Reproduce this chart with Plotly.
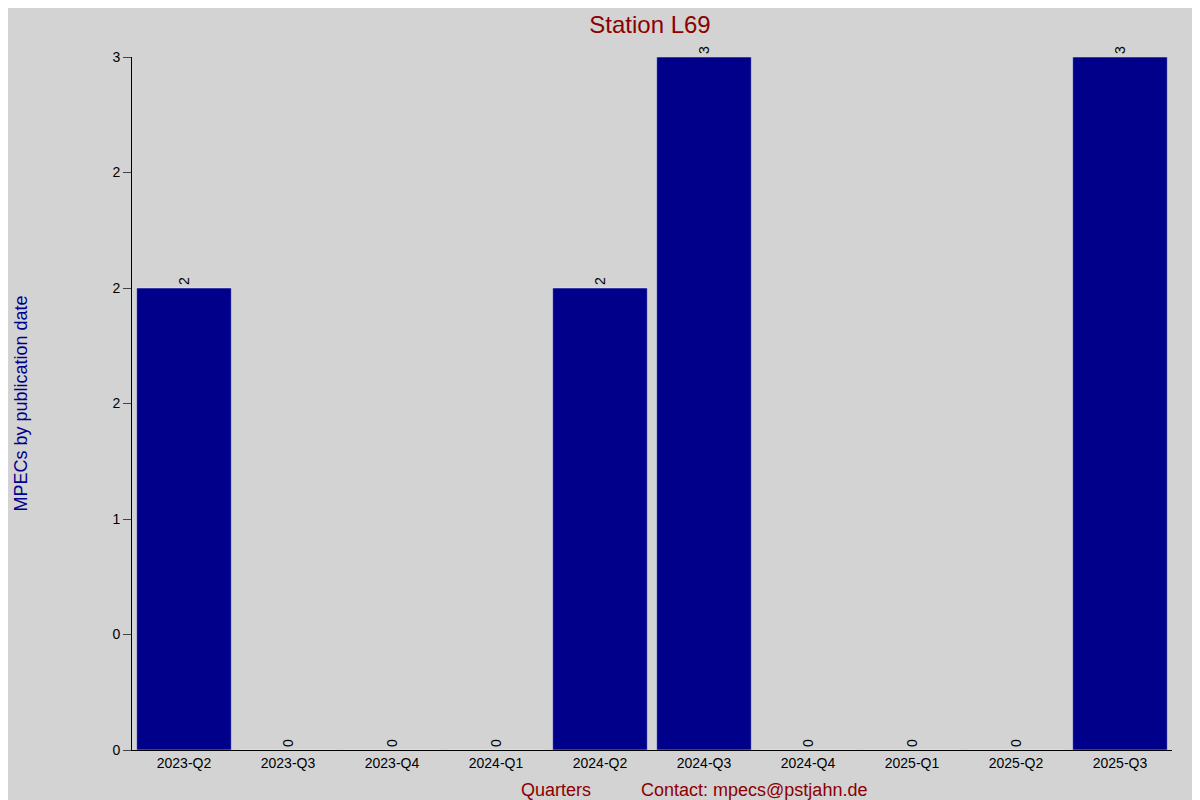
import plotly.graph_objects as go

quarters = ["2023-Q2", "2023-Q3", "2023-Q4", "2024-Q1", "2024-Q2",
            "2024-Q3", "2024-Q4", "2025-Q1", "2025-Q2", "2025-Q3"]
counts = [2, 0, 0, 0, 2, 3, 0, 0, 0, 3]
ytick_vals = [0, 0.5, 1, 1.5, 2, 2.5, 3]
ytick_text = ["0", "0", "1", "2", "2", "2", "3"]

fig = go.Figure(go.Bar(
    x=quarters, y=counts, marker_color="#00008b",
    text=[str(c) for c in counts], textposition="outside",
    textangle=-90, textfont=dict(color="black", size=14),
    cliponaxis=False,
))

fig.update_layout(
    width=1200, height=800,
    paper_bgcolor="#d3d3d3", plot_bgcolor="#d3d3d3",
    font=dict(family="Liberation Sans, Arial", size=14, color="black"),
    title=dict(text="Station L69", x=0.535, y=0.99, yanchor="top",
               font=dict(size=24, color="#8b0000")),
    margin=dict(l=118, r=36, t=49, b=58),
    bargap=0.09,
    showlegend=False,
    xaxis=dict(showline=True, linecolor="black", ticks="", showgrid=False),
    yaxis=dict(range=[0, 3], tickvals=ytick_vals, ticktext=ytick_text,
               showline=True, linecolor="black", ticks="outside", ticklen=8,
               showgrid=False, zeroline=False,
               title=dict(text="MPECs by publication date",
                          font=dict(color="#00008b", size=18), standoff=80)),
    annotations=[dict(text="Quarters          Contact: mpecs@pstjahn.de",
                      x=0.54, y=-0.075, xref="paper", yref="paper",
                      showarrow=False, font=dict(size=18, color="#8b0000"))],
)

fig.write_html("out.html")
